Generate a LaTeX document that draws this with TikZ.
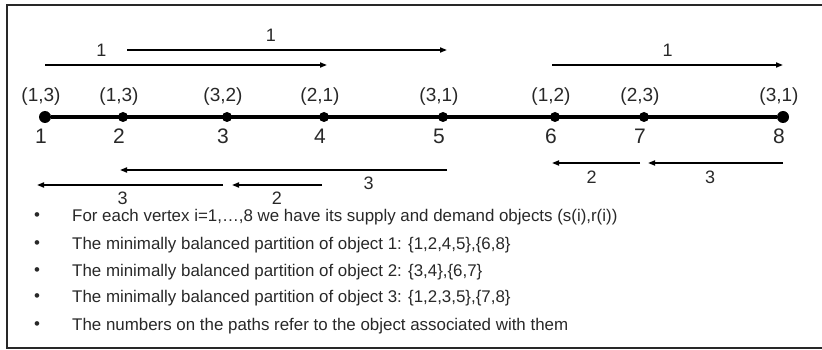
\documentclass[tikz,border=0pt]{standalone}
\usepackage{fontspec}
\setmainfont{Liberation Sans}
\usetikzlibrary{arrows.meta,positioning,calc}
\definecolor{inkgray}{RGB}{40,40,40}
\tikzset{
  chain/.style={x=1pt,y=-1pt,>={Triangle[length=7pt,width=5pt]},
    every node/.style={inner sep=0pt,text=inkgray}},
  vtx/.style={circle,fill=black,minimum size=10pt},
  endvtx/.style={circle,fill=black,minimum size=12pt},
  pair/.style={font=\fontsize{19}{19}\selectfont},
  idx/.style={font=\fontsize{21}{21}\selectfont},
  obj/.style={font=\fontsize{18}{18}\selectfont},
  path/.style={->,line width=1.6pt,black},
  note/.style={anchor=west,font=\fontsize{16.9}{16.9}\selectfont}}

\begin{document}
\begin{tikzpicture}[chain]
  \useasboundingbox (0,0) rectangle (822,350);
  \draw[inkgray,line width=2pt] (7,5) rectangle (840,348);
  % the path and its vertices
  \node[endvtx] (v1) at (45,117) {};
  \node[vtx] (v2) at (123,117) {};
  \node[vtx] (v3) at (227,117) {};
  \node[vtx] (v4) at (324,117) {};
  \node[vtx] (v5) at (443,117) {};
  \node[vtx] (v6) at (555,117) {};
  \node[vtx] (v7) at (644,117) {};
  \node[endvtx] (v8) at (783,117) {};
  \draw[line width=3.5pt] (v1) -- (v8);
  \foreach \v/\sr in {1/{(1,3)},2/{(1,3)},3/{(3,2)},4/{(2,1)},5/{(3,1)},6/{(1,2)},7/{(2,3)},8/{(3,1)}}{
    \node[pair] (p\v) at ($(v\v)+(-4,-20)$) {\sr};
    \node[idx] (n\v) at ($(v\v)+(-4,19)$) {\v};
  }
  % paths of the objects
  \coordinate (t1a) at (45,65);  \coordinate (t1b) at (327,65);
  \coordinate (t2a) at (127,50); \coordinate (t2b) at (447,50);
  \coordinate (t3a) at (552,65); \coordinate (t3b) at (783,65);
  \draw[path] (t1a) -- node[obj,pos=0.2,above=8pt] (l1) {1} (t1b);
  \draw[path] (t2a) -- node[obj,pos=0.45,above=8pt] (l2) {1} (t2b);
  \draw[path] (t3a) -- node[obj,midway,above=8pt] (l3) {1} (t3b);
  \coordinate (b1a) at (447,170); \coordinate (b1b) at (120,170);
  \coordinate (b2a) at (322,185); \coordinate (b2b) at (232,185);
  \coordinate (b3a) at (223,185); \coordinate (b3b) at (37,185);
  \coordinate (b4a) at (640,163); \coordinate (b4b) at (552,163);
  \coordinate (b5a) at (783,163); \coordinate (b5b) at (648,163);
  \draw[path] (b1a) -- node[obj,pos=0.24,below=6pt] (l4) {3} (b1b);
  \draw[path] (b2a) -- node[obj,midway,below=6pt] (l5) {2} (b2b);
  \draw[path] (b3a) -- node[obj,pos=0.54,below=6pt] (l6) {3} (b3b);
  \draw[path] (b4a) -- node[obj,pos=0.55,below=7pt] (l7) {2} (b4b);
  \draw[path] (b5a) -- node[obj,pos=0.54,below=7pt] (l8) {3} (b5b);
  % notes
  \foreach \k/\y/\t in {1/217/{For each vertex i=1,\dots,8 we have its supply and demand objects (s(i),r(i))},
      2/245/{The minimally balanced partition of object 1: \{1,2,4,5\},\{6,8\}},
      3/272/{The minimally balanced partition of object 2: \{3,4\},\{6,7\}},
      4/298/{The minimally balanced partition of object 3: \{1,2,3,5\},\{7,8\}},
      5/326/{The numbers on the paths refer to the object associated with them}}{
    \node[note] (m\k) at (72,\y) {\t};
    \node[note] (d\k) at (34,\y) {\textbullet};
  }
\end{tikzpicture}
\end{document}
